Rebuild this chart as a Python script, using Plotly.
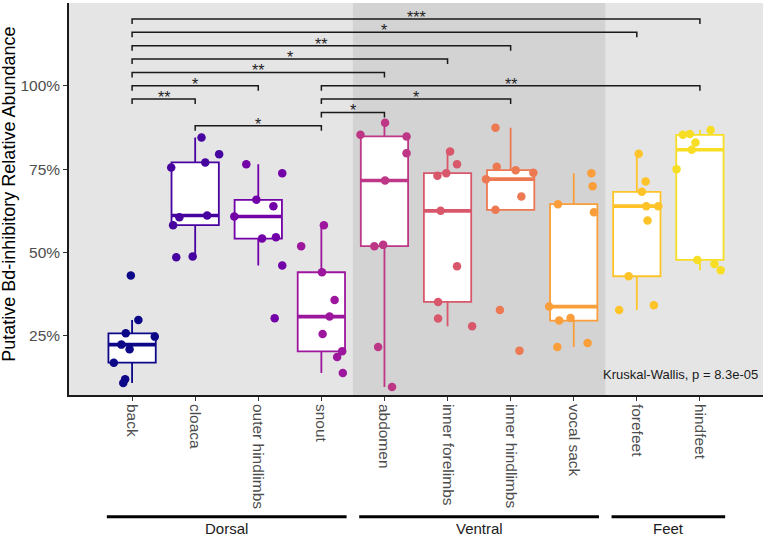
import numpy as np
import plotly.graph_objects as go

categories = ["back", "cloaca", "outer hindlimbs", "snout", "abdomen",
              "inner forelimbs", "inner hindlimbs", "vocal sack", "forefeet", "hindfeet"]
colors = ["#0D0887", "#47039F", "#7301A8", "#9C179E", "#BD3786",
          "#D8576B", "#ED7953", "#FA9E3B", "#FDC328", "#F7DE25"]

# relative abundance (%) per body site
back = [43.1, 29.8, 25.8, 24.8, 22.4, 21.0, 17.0, 12.0, 10.9]
cloaca = [84.5, 79.5, 77.0, 75.5, 61.1, 60.6, 58.2, 48.8, 48.6]
outer_hindlimbs = [76.5, 73.8, 65.8, 63.9, 60.8, 54.6, 54.2, 46.1, 30.3]
snout = [58.2, 51.9, 44.1, 35.8, 30.8, 25.6, 20.4, 18.7, 13.9]
abdomen = [88.9, 85.3, 84.8, 79.8, 71.6, 52.3, 51.9, 21.7, 9.7]
inner_forelimbs = [80.3, 76.5, 73.8, 73.0, 62.5, 45.9, 35.2, 30.2, 27.9]
inner_hindlimbs = [87.4, 75.7, 74.7, 73.9, 72.0, 66.8, 62.8, 32.8, 20.6]
vocal_sack = [73.8, 69.9, 64.5, 62.1, 33.8, 30.4, 29.6, 22.9, 21.7]
forefeet = [79.6, 71.3, 68.2, 63.9, 63.9, 59.6, 42.9, 34.2, 32.8]
hindfeet = [86.7, 85.5, 85.3, 83.0, 80.8, 75.0, 47.8, 46.6, 44.7]

# horizontal jitter of each point (category units)
back_jit = [-0.02, 0.10, -0.10, 0.36, -0.17, -0.04, -0.29, -0.11, -0.14]
cloaca_jit = [0.10, 0.38, 0.16, -0.38, 0.19, -0.25, -0.35, -0.04, -0.30]
outer_hindlimbs_jit = [-0.19, 0.38, -0.03, 0.24, -0.38, 0.28, 0.06, 0.38, 0.26]
snout_jit = [0.04, -0.32, 0.01, 0.21, 0.13, 0.02, 0.33, 0.25, 0.34]
abdomen_jit = [0.01, -0.38, 0.35, 0.35, 0.01, -0.02, -0.16, -0.10, 0.12]
inner_forelimbs_jit = [0.04, 0.15, -0.02, -0.16, -0.11, 0.15, -0.15, -0.15, 0.39]
inner_hindlimbs_jit = [-0.24, -0.22, 0.08, 0.36, -0.39, 0.17, -0.24, -0.17, 0.14]
vocal_sack_jit = [0.28, 0.30, -0.25, 0.32, -0.39, -0.05, -0.23, 0.22, -0.26]
forefeet_jit = [0.03, 0.14, 0.08, 0.15, 0.34, 0.17, -0.13, 0.27, -0.28]
hindfeet_jit = [0.17, -0.16, -0.27, -0.07, -0.13, -0.37, -0.04, 0.23, 0.33]

values = [back, cloaca, outer_hindlimbs, snout, abdomen,
          inner_forelimbs, inner_hindlimbs, vocal_sack, forefeet, hindfeet]
jitters = [back_jit, cloaca_jit, outer_hindlimbs_jit, snout_jit, abdomen_jit,
           inner_forelimbs_jit, inner_hindlimbs_jit, vocal_sack_jit, forefeet_jit, hindfeet_jit]

ytick_vals = [25, 50, 75, 100]
ytick_text = ["25%", "50%", "75%", "100%"]

# pairwise comparisons
br_g1 = ["back"] * 7 + ["cloaca", "snout", "snout", "snout"]
br_g2 = ["cloaca", "outer hindlimbs", "abdomen", "inner forelimbs", "inner hindlimbs",
         "forefeet", "hindfeet", "snout", "abdomen", "inner hindlimbs", "hindfeet"]
br_y = [96, 100, 104, 108, 112, 116, 120, 88, 92, 96, 100]
br_lab = ["**", "*", "**", "*", "**", "*", "***", "*", "*", "*", "**"]

groups = ["Dorsal", "Ventral", "Feet"]
group_first = ["back", "abdomen", "forefeet"]
group_last = ["snout", "vocal sack", "hindfeet"]

kw_text = "Kruskal-Wallis, p = 8.3e-05"

FONT = "Liberation Sans"
fig = go.Figure()

for i, (vals, col) in enumerate(zip(values, colors)):
    v = np.array(vals)
    q1, med, q3 = np.percentile(v, [25, 50, 75])
    iqr = q3 - q1
    lo = v[v >= q1 - 1.5 * iqr].min()
    hi = v[v <= q3 + 1.5 * iqr].max()
    fig.add_trace(go.Box(x=[i], q1=[q1], median=[med], q3=[q3], lowerfence=[lo],
                         upperfence=[hi], width=0.75, whiskerwidth=0,
                         fillcolor="white", line=dict(color=col, width=1.8),
                         boxpoints=False, hoverinfo="skip", showlegend=False))
    fig.add_trace(go.Scatter(x=[i - 0.375, i + 0.375], y=[med, med], mode="lines",
                             line=dict(color=col, width=3.6), hoverinfo="skip",
                             showlegend=False))

for i, (vals, jit, col) in enumerate(zip(values, jitters, colors)):
    fig.add_trace(go.Scatter(x=[i + j for j in jit], y=vals, mode="markers",
                             marker=dict(color=col, size=8.5), showlegend=False))

# significance brackets
tip = 1.5
bx, by = [], []
for a, b, y in zip(br_g1, br_g2, br_y):
    xa, xb = categories.index(a), categories.index(b)
    bx += [xa, xa, xb, xb, None]
    by += [y - tip, y, y, y - tip, None]
fig.add_trace(go.Scatter(x=bx, y=by, mode="lines", line=dict(color="#1a1a1a", width=1.5),
                         hoverinfo="skip", showlegend=False))
for a, b, y, lab in zip(br_g1, br_g2, br_y, br_lab):
    xm = (categories.index(a) + categories.index(b)) / 2
    fig.add_annotation(x=xm, y=y, text=lab, showarrow=False, yanchor="bottom", yshift=-9,
                       font=dict(family=FONT, size=16, color="#222222"))

# shaded ventral block
fig.add_shape(type="rect", xref="x", yref="paper", x0=3.5, x1=7.5, y0=0, y1=1,
              fillcolor="#D3D3D3", line_width=0, layer="below")

# group bars under the axis
for g, a, b in zip(groups, group_first, group_last):
    xa, xb = categories.index(a) - 0.4, categories.index(b) + 0.4
    fig.add_shape(type="line", xref="x", yref="paper", x0=xa, x1=xb, y0=-0.3105, y1=-0.3105,
                  line=dict(color="black", width=3))
    fig.add_annotation(x=(xa + xb) / 2, xref="x", y=-0.341, yref="paper", text=g,
                       showarrow=False, yanchor="middle",
                       font=dict(family=FONT, size=15, color="#1a1a1a"))

fig.add_annotation(x=8.69, y=13.3, text=kw_text, showarrow=False,
                   font=dict(family=FONT, size=13, color="#1a1a1a"))

fig.add_annotation(x=-0.104, xref="paper", y=0.513, yref="paper",
                   text="Putative Bd-inhibitory Relative Abundance", textangle=-90,
                   showarrow=False, font=dict(family=FONT, size=18, color="black"))

fig.update_layout(
    width=767, height=537,
    margin=dict(l=69, r=4, t=3, b=142),
    plot_bgcolor="#E5E5E5", paper_bgcolor="white",
    font=dict(family=FONT),
)
fig.update_xaxes(range=[-1, 10], tickvals=list(range(len(categories))), ticktext=categories,
                 tickangle=90, showline=True, linecolor="#1a1a1a", linewidth=1.6,
                 ticks="outside", ticklen=4, tickcolor="#333333", tickwidth=1.2,
                 showgrid=False, zeroline=False,
                 tickfont=dict(family=FONT, size=15.5, color="#4D4D4D"))
fig.update_yaxes(range=[7.3, 124.8], tickvals=ytick_vals, ticktext=ytick_text,
                 showline=True, linecolor="#1a1a1a", linewidth=1.6,
                 ticks="outside", ticklen=4, tickcolor="#333333", tickwidth=1.2,
                 showgrid=False, zeroline=False,
                 tickfont=dict(family=FONT, size=15.5, color="#4D4D4D"))

fig.write_html("out.html", config={"displayModeBar": False},
               post_script="document.body.style.margin='0';document.body.style.overflow='hidden';")
